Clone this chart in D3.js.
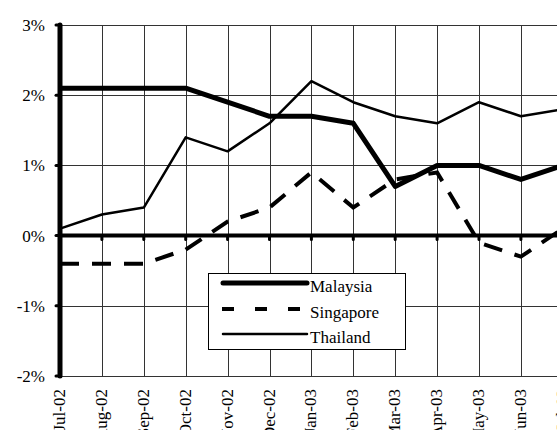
<!DOCTYPE html>
<html><head><meta charset="utf-8">
<script src="https://cdn.jsdelivr.net/npm/d3@7"></script>
<style>body{margin:0;background:#fff}svg{display:block}</style>
</head><body><svg id="c" width="557" height="430"></svg>
<script>
const categories = ["Jul-02","Aug-02","Sep-02","Oct-02","Nov-02","Dec-02","Jan-03","Feb-03","Mar-03","Apr-03","May-03","Jun-03","Jul-03"];
const malaysia  = [2.1,2.1,2.1,2.1,1.9,1.7,1.7,1.6,0.7,1.0,1.0,0.8,1.0];
const singapore = [-0.4,-0.4,-0.4,-0.2,0.2,0.4,0.9,0.4,0.8,0.9,-0.1,-0.3,0.1];
const thailand  = [0.1,0.3,0.4,1.4,1.2,1.6,2.2,1.9,1.7,1.6,1.9,1.7,1.8];
const yTicks = [-2,-1,0,1,2,3];
const yTickLabels = ["-2%","-1%","0%","1%","2%","3%"];

const FONT = "Liberation Serif";
const svg = d3.select("#c");
const x = d3.scalePoint().domain(categories).range([60, 60 + 12*41.9]);
const y = d3.scaleLinear().domain([-2,3]).range([376,25]);

// grid
svg.append("g").selectAll("line").data(yTicks).join("line")
  .attr("x1",60).attr("x2",600).attr("y1",d=>Math.round(y(d))+0.5).attr("y2",d=>Math.round(y(d))+0.5)
  .attr("stroke","#333").attr("stroke-width",1);
svg.append("g").selectAll("line").data(categories.slice(1)).join("line")
  .attr("x1",d=>Math.round(x(d))+0.5).attr("x2",d=>Math.round(x(d))+0.5).attr("y1",y(3)).attr("y2",y(-2))
  .attr("stroke","#333").attr("stroke-width",1);

// zero line
svg.append("line").attr("x1",60).attr("x2",600).attr("y1",y(0)).attr("y2",y(0))
  .attr("stroke","#000").attr("stroke-width",4);
svg.append("g").selectAll("line").data(categories).join("line")
  .attr("x1",d=>x(d)).attr("x2",d=>x(d)).attr("y1",y(0)).attr("y2",y(0)+4)
  .attr("stroke","#000").attr("stroke-width",3).attr("stroke-linecap","round");

// y axis
svg.append("line").attr("x1",60).attr("x2",60).attr("y1",y(3)).attr("y2",y(-2))
  .attr("stroke","#000").attr("stroke-width",5).attr("stroke-linecap","round");
svg.append("g").selectAll("line").data(yTicks).join("line")
  .attr("x1",56).attr("x2",60).attr("y1",d=>y(d)).attr("y2",d=>y(d))
  .attr("stroke","#000").attr("stroke-width",3).attr("stroke-linecap","round");
svg.append("g").selectAll("text").data(yTicks).join("text")
  .attr("x",45).attr("y",d=>y(d)+6).attr("text-anchor","end")
  .attr("font-family",FONT).attr("font-size",17)
  .text((d,i)=>yTickLabels[i]);

// x labels
svg.append("g").selectAll("text").data(categories).join("text")
  .attr("transform",d=>`translate(${x(d)+5},389) rotate(-90)`)
  .attr("text-anchor","end").attr("font-family",FONT).attr("font-size",17).text(d=>d);

// series
const line = d3.line().x((d,i)=>x(categories[i])).y(d=>y(d));
svg.append("path").datum(thailand).attr("d",line).attr("fill","none")
  .attr("stroke","#000").attr("stroke-width",2.5).attr("stroke-linejoin","round");
svg.append("path").datum(singapore).attr("d",line).attr("fill","none")
  .attr("stroke","#000").attr("stroke-width",4).attr("stroke-dasharray","19,13");
svg.append("path").datum(malaysia).attr("d",line).attr("fill","none")
  .attr("stroke","#000").attr("stroke-width",5).attr("stroke-linejoin","round");

// legend
const lg = svg.append("g");
lg.append("rect").attr("x",208.5).attr("y",273.5).attr("width",197).attr("height",76)
  .attr("fill","#fff").attr("stroke","#000").attr("stroke-width",1);
const legendItems = [["Malaysia",5,null,283],["Singapore",4,"12,21",309],["Thailand",2.5,null,334]];
legendItems.forEach(([name,w,dash,ly])=>{
  lg.append("line").attr("x1",dash?222:223).attr("x2",307).attr("y1",ly).attr("y2",ly)
    .attr("stroke","#000").attr("stroke-width",w).attr("stroke-dasharray",dash)
    .attr("stroke-linecap",dash?"butt":"round");
  lg.append("text").attr("x",310).attr("y",ly+9).attr("font-family",FONT).attr("font-size",17).text(name);
});
</script></body></html>
